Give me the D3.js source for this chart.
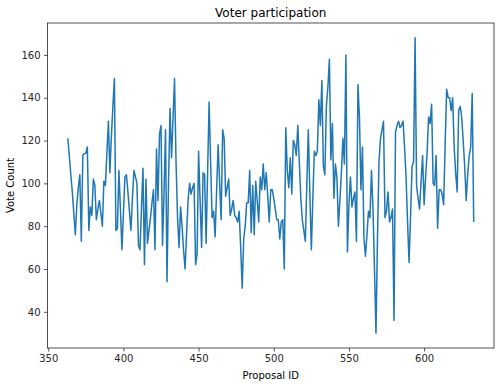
<!DOCTYPE html>
<html lang="en">
<head>
<meta charset="UTF-8">
<title>Voter participation</title>
<style>
  body { margin: 0; background: #fff; }
  svg { font-family: "DejaVu Sans", sans-serif; }
</style>
</head>
<body>
<svg id="chart"></svg>
<script src="https://cdn.jsdelivr.net/npm/d3@7"></script>
<script>
// proposal ids run 363..633
const firstId = 363;
const votes = [
  121,113,104,96,86,76,90,98,104,73,
  113,114,114,117,78,89,85,102,99,83,
  88,92,86,80,101,99,114,129,105,122,
  136,149,78,79,106,88,69,86,103,104,
  96,87,78,93,106,
  103,100,71,69,88,107,62,102,72,78,
  84,91,97,69,116,92,123,127,71,95,
  125,54,100,135,112,130,149,110,84,70,
  89,80,69,60,76,92,100,95,98,100,
  62,67,115,92,70,105,104,
  72,105,138,110,84,87,75,97,118,100,
  83,125,121,94,98,102,85,88,92,85,
  84,82,87,70,51,74,80,91,91,106,
  77,99,76,101,92,82,103,97,109,97,
  105,94,82,97,97,93,88,
  83,83,74,82,83,60,126,106,98,112,
  95,120,118,113,127,110,93,83,78,73,
  100,125,95,69,93,115,113,115,139,127,
  148,108,104,136,145,158,111,128,93,109,
  103,80,92,105,121,109,
  160,68,90,103,89,93,96,73,146,131,
  97,117,74,66,76,87,84,106,88,60,
  30,75,110,121,125,129,84,87,96,82,
  84,88,36,124,127,129,126,127,129,117,
  103,82,63,85,108,110,168,
  99,93,88,101,113,90,103,114,131,128,
  137,100,99,113,79,97,97,95,90,118,
  144,140,140,134,140,117,105,96,134,136,
  131,120,108,92,104,113,117,142,82
];
const proposalIds = votes.map((v, i) => firstId + i);
const xTicks = [350, 400, 450, 500, 550, 600];
const yTicks = [40, 60, 80, 100, 120, 140, 160];

const width = 500, height = 387;
const margin = { top: 23, right: 6, bottom: 39, left: 47.5 };

const svg = d3.select("#chart").attr("width", width).attr("height", height);
svg.append("rect").attr("width", width).attr("height", height).attr("fill", "#fff");

// matplotlib style 5% padding
const xExt = d3.extent(proposalIds), yExt = d3.extent(votes);
const xPad = (xExt[1] - xExt[0]) * 0.05, yPad = (yExt[1] - yExt[0]) * 0.05;

const x = d3.scaleLinear()
  .domain([xExt[0] - xPad, xExt[1] + xPad])
  .range([margin.left, width - margin.right]);
const y = d3.scaleLinear()
  .domain([yExt[0] - yPad, yExt[1] + yPad])
  .range([height - margin.bottom, margin.top]);

const line = d3.line()
  .x((d, i) => x(proposalIds[i]))
  .y(d => y(d));

svg.append("path")
  .datum(votes)
  .attr("fill", "none")
  .attr("stroke", "#1f77b4")
  .attr("stroke-width", 1.5)
  .attr("stroke-linejoin", "round")
  .attr("d", line);

const xAxis = svg.append("g")
  .attr("transform", `translate(0,${height - margin.bottom})`)
  .call(d3.axisBottom(x).tickValues(xTicks).tickSize(3.5).tickPadding(3.5).tickSizeOuter(0));
const yAxis = svg.append("g")
  .attr("transform", `translate(${margin.left},0)`)
  .call(d3.axisLeft(y).tickValues(yTicks).tickSize(3.5).tickPadding(3.5).tickSizeOuter(0));

[xAxis, yAxis].forEach(a => {
  a.select(".domain").remove();
  a.selectAll("text").attr("font-size", 10).attr("fill", "#262626").attr("font-family", "DejaVu Sans");
  a.selectAll("line").attr("stroke", "#262626").attr("stroke-width", 0.8);
});

// frame
svg.append("rect")
  .attr("x", margin.left).attr("y", margin.top)
  .attr("width", width - margin.left - margin.right)
  .attr("height", height - margin.top - margin.bottom)
  .attr("fill", "none").attr("stroke", "#262626").attr("stroke-width", 0.8);

svg.append("text")
  .attr("x", (margin.left + width - margin.right) / 2).attr("y", 17)
  .attr("text-anchor", "middle").attr("font-size", 12).attr("fill", "#000")
  .text("Voter participation");

svg.append("text")
  .attr("x", (margin.left + width - margin.right) / 2).attr("y", 379)
  .attr("text-anchor", "middle").attr("font-size", 10).attr("fill", "#000")
  .text("Proposal ID");

svg.append("text")
  .attr("transform", `translate(14,${(margin.top + height - margin.bottom) / 2}) rotate(-90)`)
  .attr("text-anchor", "middle").attr("font-size", 10).attr("fill", "#000")
  .text("Vote Count");
</script>
</body>
</html>
